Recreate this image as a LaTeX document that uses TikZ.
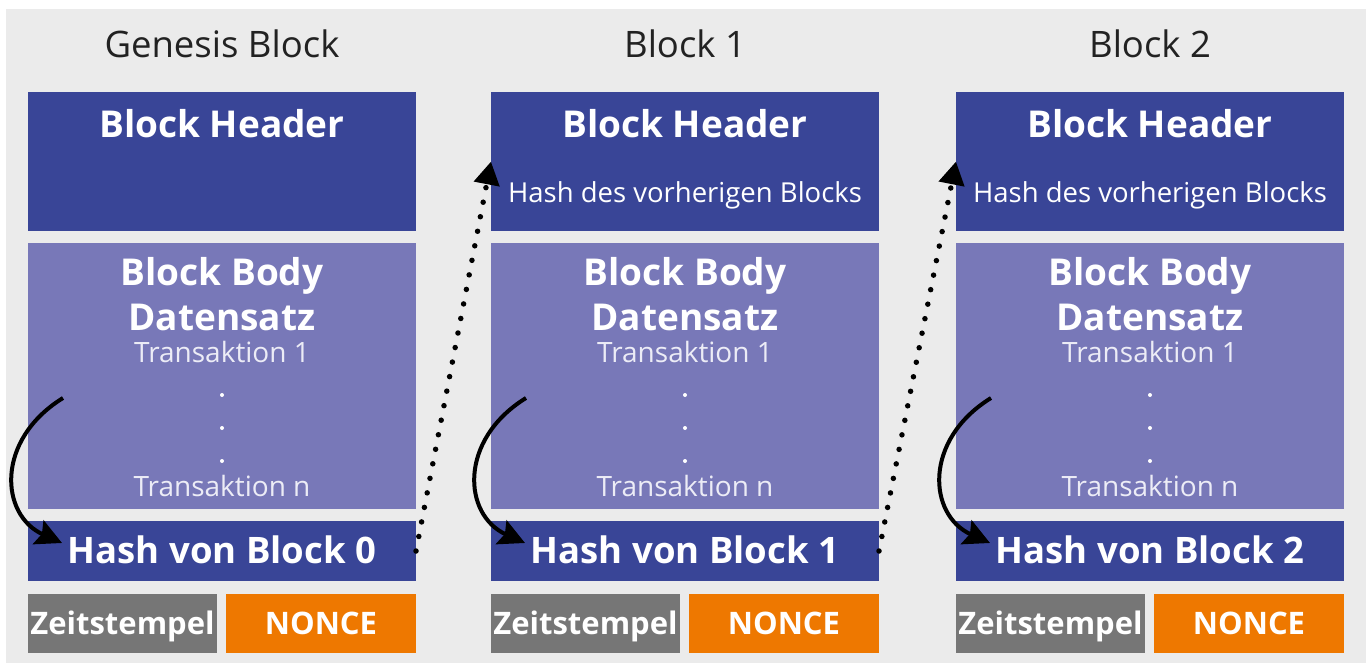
\documentclass[tikz,border=0pt]{standalone}
\usepackage{fontspec}
\setmainfont{Open Sans}
\usetikzlibrary{arrows.meta,calc}

\definecolor{canvas}{HTML}{EBEBEB}
\definecolor{hdrblue}{HTML}{394597}
\definecolor{bodyblue}{HTML}{7878B8}
\definecolor{stampgray}{HTML}{767676}
\definecolor{nonceorange}{HTML}{EE7800}
\definecolor{titletext}{HTML}{222222}
\definecolor{txlight}{HTML}{ECECF6}

\begin{document}
\begin{tikzpicture}[x=1pt,y=-1pt,
  box/.style={anchor=north west, inner sep=0pt, outer sep=0pt, draw=none},
  headerbox/.style={box, fill=hdrblue, minimum width=388pt, minimum height=139pt},
  bodybox/.style={box, fill=bodyblue, minimum width=388pt, minimum height=266pt},
  hashbox/.style={box, fill=hdrblue, minimum width=388pt, minimum height=60pt},
  stampbox/.style={box, fill=stampgray, minimum width=189pt, minimum height=59pt},
  noncebox/.style={box, fill=nonceorange, minimum width=190pt, minimum height=59pt},
  txt/.style={anchor=base, inner sep=0pt},
  blocktitle/.style={txt, text=titletext, font=\fontsize{36.5}{42}\selectfont},
  boldlabel/.style={txt, text=white, font=\bfseries\fontsize{37}{42}\selectfont},
  hashlabel/.style={txt, text=white, font=\bfseries\fontsize{36.5}{42}\selectfont},
  smalllabel/.style={txt, text=white, font=\fontsize{27.5}{32}\selectfont},
  txlabel/.style={txt, text=txlight, font=\fontsize{28}{32}\selectfont},
  tinylabel/.style={txt, text=white, font=\bfseries\fontsize{31}{36}\selectfont},
  dotmark/.style={circle, fill=white, inner sep=0pt, minimum size=4pt},
  hashflow/.style={line width=4pt, -{Stealth[length=26pt,width=26pt,inset=4pt]}},
  chainlink/.style={line width=5.5pt, line cap=round, dash pattern=on 0pt off 14.8pt,
    -{Triangle[length=23pt,width=25pt]}}
]
  \useasboundingbox (0,0) rectangle (1370,663);
  \fill[canvas] (6,9) rectangle (1366,663);

  \foreach \i/\x/\name in {0/28/Genesis Block, 1/491/Block 1, 2/956/Block 2}{
    % boxes of one block
    \node[headerbox] (hdr\i)   at (\x,92)  {};
    \node[bodybox]   (body\i)  at (\x,243) {};
    \node[hashbox]   (hash\i)  at (\x,521) {};
    \node[stampbox]  (zeit\i)  at (\x,594) {};
    \node[noncebox]  (nonce\i) at (\x+198,594) {};

    % texts of one block
    \node[blocktitle] (title\i) at (\x+194,58)  {\name};
    \node[boldlabel]  (hdrt\i)  at (\x+194,138) {Block Header};
    \ifnum\i>0
      \node[smalllabel] (prev\i) at (\x+194,203) {Hash des vorherigen Blocks};
    \fi
    \node[boldlabel] (bodyt\i) at (\x+194,285) {Block Body};
    \node[boldlabel] (data\i)  at (\x+194,330) {Datensatz};
    \node[txlabel]   (txa\i)   at (\x+194,362) {Transaktion 1};
    \node[dotmark]   (da\i)    at (\x+194,395) {};
    \node[dotmark]   (db\i)    at (\x+194,428) {};
    \node[dotmark]   (dc\i)    at (\x+194,461) {};
    \node[txlabel]   (txn\i)   at (\x+194,496) {Transaktion n};
    \node[hashlabel] (hasht\i) at (\x+194,563) {Hash von Block \i};
    \node[tinylabel] (zeitt\i) at (\x+94.5,634) {Zeitstempel};
    \node[tinylabel] (noncet\i) at (\x+293,634) {NONCE};

    % the body data is hashed into the block's own hash
    \coordinate (cs\i) at (\x+35,398);
    \coordinate (ce\i) at (\x+34,543);
    \draw[hashflow] (cs\i) .. controls (\x-33,440) and (\x-28,515) .. (ce\i);
  }

  % each block header references the previous block's hash
  \draw[chainlink] (hash0.east) -- (hdr1.west);
  \draw[chainlink] (hash1.east) -- (hdr2.west);
\end{tikzpicture}
\end{document}
